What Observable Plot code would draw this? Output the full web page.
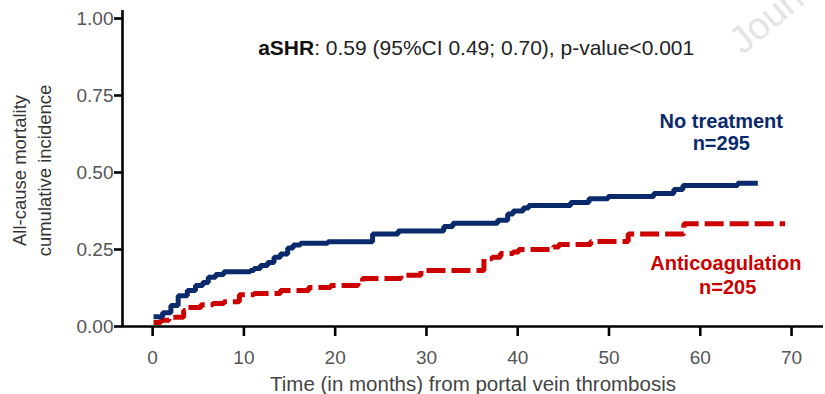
<!DOCTYPE html>
<html>
<head>
<meta charset="utf-8">
<script src="https://cdn.jsdelivr.net/npm/d3@7"></script>
<script src="https://cdn.jsdelivr.net/npm/@observablehq/plot@0.6"></script>
<style>
  html, body { margin: 0; padding: 0; background: #fff; }
  #chart { width: 825px; height: 394px; overflow: hidden; }
  #chart svg { display: block; }
</style>
</head>
<body>
<div id="chart"></div>
<script>
// Cumulative incidence of all-cause mortality (step curves), months since PVT
const noTreatmentTime = [0.1, 1.1, 2.0, 2.8, 3.8, 4.7, 5.5, 6.1, 6.9, 7.8, 10.7, 11.1, 11.8, 12.6, 13.3, 14.0, 14.8, 15.4, 16.2, 19.2, 24.1, 26.9, 31.9, 32.9, 37.8, 38.9, 39.5, 40.6, 41.2, 45.8, 47.8, 49.9, 54.9, 57.1, 58.1, 64.1, 66.3];
const noTreatmentCif  = [0.032, 0.045, 0.068, 0.100, 0.117, 0.133, 0.143, 0.160, 0.169, 0.178, 0.182, 0.188, 0.198, 0.208, 0.225, 0.235, 0.255, 0.265, 0.270, 0.275, 0.300, 0.310, 0.325, 0.335, 0.345, 0.365, 0.375, 0.385, 0.393, 0.403, 0.415, 0.422, 0.432, 0.445, 0.458, 0.465, 0.465];

const anticoagTime = [0.1, 0.9, 1.8, 3.4, 3.8, 5.3, 6.6, 7.8, 9.5, 11.1, 14.0, 17.1, 19.5, 22.5, 23.0, 27.2, 29.4, 36.3, 37.2, 38.1, 39.5, 40.1, 43.9, 44.5, 48.0, 52.1, 58.2, 69.3];
const anticoagCif  = [0.013, 0.020, 0.030, 0.052, 0.062, 0.071, 0.075, 0.080, 0.103, 0.107, 0.117, 0.127, 0.133, 0.143, 0.156, 0.166, 0.182, 0.220, 0.225, 0.237, 0.242, 0.250, 0.258, 0.266, 0.276, 0.300, 0.334, 0.334];

const xTicks = [0, 10, 20, 30, 40, 50, 60, 70];
const yTicks = [0, 0.25, 0.5, 0.75, 1];

const xDomain = [-3.3, 73.5];
const yDomain = [0, 1.026];

const navy = "#0b2a6b";
const red = "#cc0000";
const font = "Arial, 'Liberation Sans', sans-serif";

const noTreatment = noTreatmentTime.map((t, i) => ({t, cif: noTreatmentCif[i]}));
const anticoag = anticoagTime.map((t, i) => ({t, cif: anticoagCif[i]}));

const chart = Plot.plot({
  width: 825,
  height: 394,
  marginLeft: 122,
  marginRight: 2,
  marginTop: 10,
  marginBottom: 68,
  style: {fontFamily: font, background: "#fff", overflow: "visible"},
  x: {domain: xDomain, axis: null},
  y: {domain: yDomain, axis: null},
  marks: [
    // faint diagonal watermark, mostly beyond the top-right edge
    Plot.text(["Journal Pre-proof"], {x: 63.8, y: 0.91, textAnchor: "start", rotate: -40, fill: "#e4e4e4", fontSize: 38}),

    // axis lines
    Plot.ruleX([xDomain[0]], {y1: yDomain[0], y2: yDomain[1], stroke: "#000", strokeWidth: 2.6}),
    Plot.ruleY([yDomain[0]], {x1: xDomain[0], x2: xDomain[1], stroke: "#000", strokeWidth: 2.6}),
    Plot.axisX(xTicks, {tickSize: 10, tickPadding: 14, stroke: "#000", strokeWidth: 2.6, fill: "#555", fontSize: 19, label: null}),
    Plot.axisY(yTicks, {tickSize: 8, tickPadding: 1, stroke: "#000", strokeWidth: 2.6, fill: "#555", fontSize: 19, tickFormat: d3.format(".2f"), label: null}),

    // curves
    Plot.line(anticoag, {x: "t", y: "cif", curve: "step-after", stroke: red, strokeWidth: 5, strokeDasharray: "19,6", strokeLinecap: "butt", strokeLinejoin: "miter"}),
    Plot.line(noTreatment, {x: "t", y: "cif", curve: "step-after", stroke: navy, strokeWidth: 5, strokeLinecap: "butt", strokeLinejoin: "miter"}),

    // group labels
    Plot.text(["No treatment"], {x: 62.3, y: 0.666, fill: navy, fontWeight: "bold", fontSize: 20}),
    Plot.text(["n=295"], {x: 62.3, y: 0.594, fill: navy, fontWeight: "bold", fontSize: 20}),
    Plot.text(["Anticoagulation"], {x: 62.8, y: 0.205, fill: red, fontWeight: "bold", fontSize: 20}),
    Plot.text(["n=205"], {x: 63.0, y: 0.127, fill: red, fontWeight: "bold", fontSize: 20}),

    // hazard ratio annotation
    Plot.text(["aSHR"], {x: 17.7, y: 0.903, textAnchor: "end", fill: "#111", fontWeight: "bold", fontSize: 21}),
    Plot.text([": 0.59 (95%CI 0.49; 0.70), p-value<0.001"], {x: 17.7, y: 0.903, textAnchor: "start", fill: "#222", fontSize: 21}),

    // axis titles
    Plot.text(["Time (in months) from portal vein thrombosis"], {frameAnchor: "bottom", dy: 64, fill: "#444", fontSize: 20.5}),
    Plot.text(["All-cause mortality"], {frameAnchor: "left", textAnchor: "middle", dx: -102, dy: 2, rotate: -90, fill: "#333", fontSize: 18.5}),
    Plot.text(["cumulative incidence"], {frameAnchor: "left", textAnchor: "middle", dx: -77, dy: 2, rotate: -90, fill: "#333", fontSize: 18.5})
  ]
});

document.getElementById("chart").appendChild(chart);
</script>
</body>
</html>
